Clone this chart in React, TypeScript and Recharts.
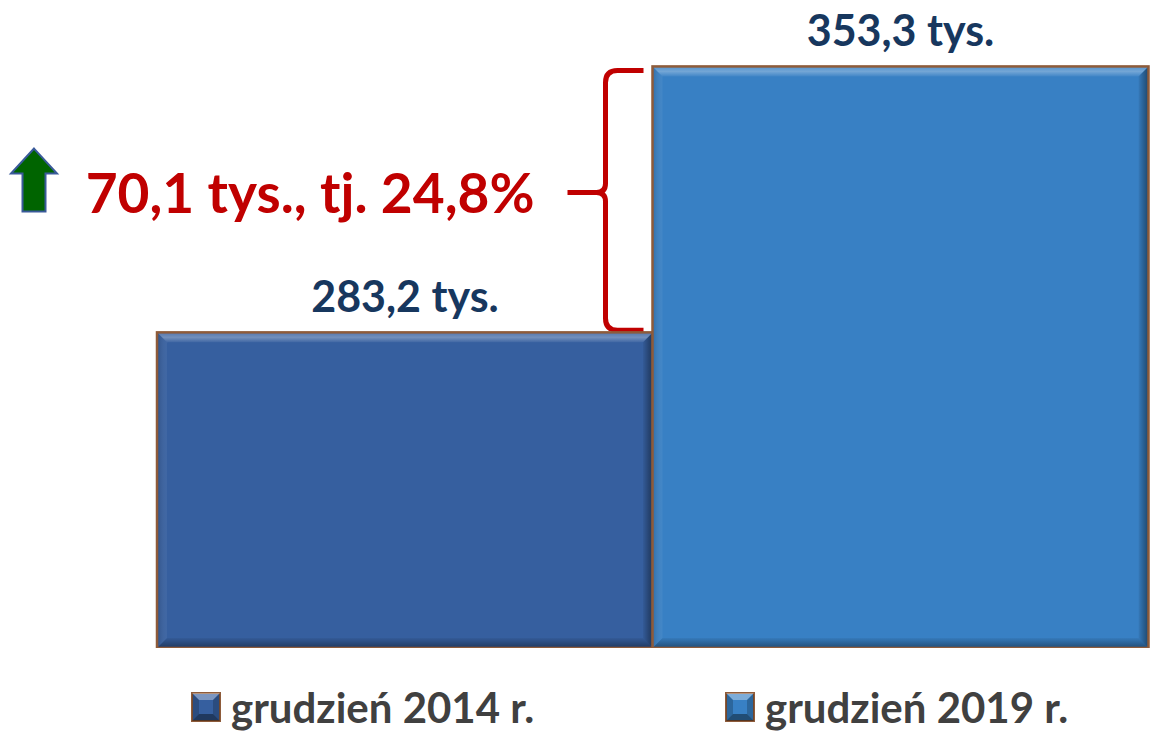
import React from "react";
import {
  BarChart,
  Bar,
  XAxis,
  YAxis,
  Cell,
  LabelList,
  Legend,
  ReferenceArea,
} from "recharts";

const categories = ["grudzień 2014 r.", "grudzień 2019 r."];
const values = [283.2, 353.3];
const valueLabels = ["283,2 tys.", "353,3 tys."];
const changeLabel = "70,1 tys., tj. 24,8%";
const barColors = ["#365F9F", "#3880C4"];

const chartData = categories.map((name, i) => ({
  name,
  value: values[i],
  label: valueLabels[i],
}));

const FONT = "Lato, 'Open Sans', sans-serif";
const BORDER = "#8E5B3A";

// beveled bar like the office "bevel" effect
function BevelBar(props: any) {
  const { x, y, width, height, fill } = props;
  const b = 10;
  return (
    <g>
      <rect x={x} y={y} width={width} height={height} fill={fill} />
      <polygon
        points={`${x},${y} ${x + width},${y} ${x + width - b},${y + b} ${x + b},${y + b}`}
        fill="url(#bevTop)"
      />
      <polygon
        points={`${x},${y} ${x + b},${y + b} ${x + b},${y + height - b} ${x},${y + height}`}
        fill="url(#bevLeft)"
      />
      <polygon
        points={`${x + width},${y} ${x + width},${y + height} ${x + width - b},${y + height - b} ${x + width - b},${y + b}`}
        fill="url(#bevRight)"
      />
      <polygon
        points={`${x},${y + height} ${x + width},${y + height} ${x + width - b},${y + height - b} ${x + b},${y + height - b}`}
        fill="url(#bevBottom)"
      />
      <rect
        x={x}
        y={y}
        width={width}
        height={height}
        fill="none"
        stroke={BORDER}
        strokeWidth={2.5}
      />
    </g>
  );
}

// brace, change text and arrow between the two bar tops
function ChangeBrace(props: any) {
  const { x, y, width, height } = props;
  const yTop = y + 4;
  const yBot = y + height - 2;
  const ym = yTop + (yBot - yTop) * 0.47;
  const xr = x + width / 2 - 9;
  const xv = xr - 38;
  const xt = xv - 38;
  const r = 12;
  const path = [
    `M ${xr} ${yTop}`,
    `L ${xv + r} ${yTop}`,
    `Q ${xv} ${yTop} ${xv} ${yTop + r}`,
    `L ${xv} ${ym - 9}`,
    `Q ${xv} ${ym} ${xv - 9} ${ym}`,
    `L ${xt} ${ym}`,
    `M ${xv - 9} ${ym}`,
    `Q ${xv} ${ym} ${xv} ${ym + 9}`,
    `L ${xv} ${yBot - r}`,
    `Q ${xv} ${yBot} ${xv + r} ${yBot}`,
    `L ${xr} ${yBot}`,
  ].join(" ");
  const ax = x - 123;
  const arrow = [
    [ax, ym - 44],
    [ax + 23, ym - 19],
    [ax + 11.5, ym - 19],
    [ax + 11.5, ym + 19],
    [ax - 11.5, ym + 19],
    [ax - 11.5, ym - 19],
    [ax - 23, ym - 19],
  ]
    .map((p) => p.join(","))
    .join(" ");
  return (
    <g>
      <path d={path} fill="none" stroke="#C00000" strokeWidth={5} />
      <text
        x={xt - 33}
        y={ym + 20}
        textAnchor="end"
        fill="#C00000"
        fontFamily={FONT}
        fontWeight={700}
        fontSize={55}
      >
        {changeLabel}
      </text>
      <polygon points={arrow} fill="#006400" stroke="#3A5A9A" strokeWidth={2} />
    </g>
  );
}

function LegendIcon({ color }: { color: string }) {
  const s = 28;
  const b = 7;
  return (
    <svg width={s + 2} height={s + 2} style={{ marginRight: 10 }}>
      <g transform="translate(1,1)">
        <rect x={0} y={0} width={s} height={s} fill={color} stroke={BORDER} strokeWidth={2} />
        <polygon points={`0,0 ${s},0 ${s - b},${b} ${b},${b}`} fill="rgba(255,255,255,0.35)" />
        <polygon points={`0,${s} ${s},${s} ${s - b},${s - b} ${b},${s - b}`} fill="rgba(0,0,0,0.4)" />
        <polygon points={`0,0 ${b},${b} ${b},${s - b} 0,${s}`} fill="rgba(0,0,0,0.2)" />
        <polygon points={`${s},0 ${s - b},${b} ${s - b},${s - b} ${s},${s}`} fill="rgba(0,0,0,0.2)" />
      </g>
    </svg>
  );
}

function LegendContent() {
  const lefts = [191, 725];
  return (
    <div style={{ position: "relative", height: 86, width: 1153 }}>
      {categories.map((c, i) => (
        <div
          key={c}
          style={{
            position: "absolute",
            left: lefts[i],
            top: 38,
            height: 42,
            display: "flex",
            alignItems: "center",
            fontFamily: FONT,
            fontWeight: 700,
            fontSize: 42,
            color: "#404040",
            whiteSpace: "nowrap",
          }}
        >
          <LegendIcon color={barColors[i]} />
          <span style={{ lineHeight: "42px" }}>{c}</span>
        </div>
      ))}
    </div>
  );
}

export default function App() {
  return (
    <div style={{ position: "absolute", left: 0, top: 0, background: "#fff" }}>
      <BarChart
        width={1153}
        height={734}
        data={chartData}
        margin={{ top: 41, right: 5, bottom: 0, left: 157 }}
        barCategoryGap={0}
      >
        <defs>
          <linearGradient id="bevTop" x1="0" y1="0" x2="0" y2="1">
            <stop offset="0%" stopColor="#ffffff" stopOpacity={0.15} />
            <stop offset="50%" stopColor="#ffffff" stopOpacity={0.3} />
            <stop offset="100%" stopColor="#ffffff" stopOpacity={0.05} />
          </linearGradient>
          <linearGradient id="bevBottom" x1="0" y1="0" x2="0" y2="1">
            <stop offset="0%" stopColor="#000000" stopOpacity={0.05} />
            <stop offset="100%" stopColor="#000000" stopOpacity={0.4} />
          </linearGradient>
          <linearGradient id="bevLeft" x1="0" y1="0" x2="1" y2="0">
            <stop offset="0%" stopColor="#000000" stopOpacity={0.15} />
            <stop offset="100%" stopColor="#ffffff" stopOpacity={0.05} />
          </linearGradient>
          <linearGradient id="bevRight" x1="0" y1="0" x2="1" y2="0">
            <stop offset="0%" stopColor="#000000" stopOpacity={0.05} />
            <stop offset="100%" stopColor="#000000" stopOpacity={0.45} />
          </linearGradient>
        </defs>
        <XAxis dataKey="name" hide />
        <YAxis domain={[200, 360]} hide allowDataOverflow />
        <Legend
          verticalAlign="bottom"
          height={86}
          content={<LegendContent />}
          wrapperStyle={{ left: 0, bottom: 0, width: 1153 }}
        />
        <Bar dataKey="value" shape={<BevelBar />} isAnimationActive={false}>
          {chartData.map((d, i) => (
            <Cell key={d.name} fill={barColors[i]} />
          ))}
          <LabelList
            dataKey="label"
            position="top"
            offset={20}
            fill="#17375E"
            fontFamily={FONT}
            fontWeight={700}
            fontSize={43}
          />
        </Bar>
        <ReferenceArea
          y1={values[0]}
          y2={values[1]}
          shape={<ChangeBrace />}
          ifOverflow="visible"
        />
      </BarChart>
    </div>
  );
}
